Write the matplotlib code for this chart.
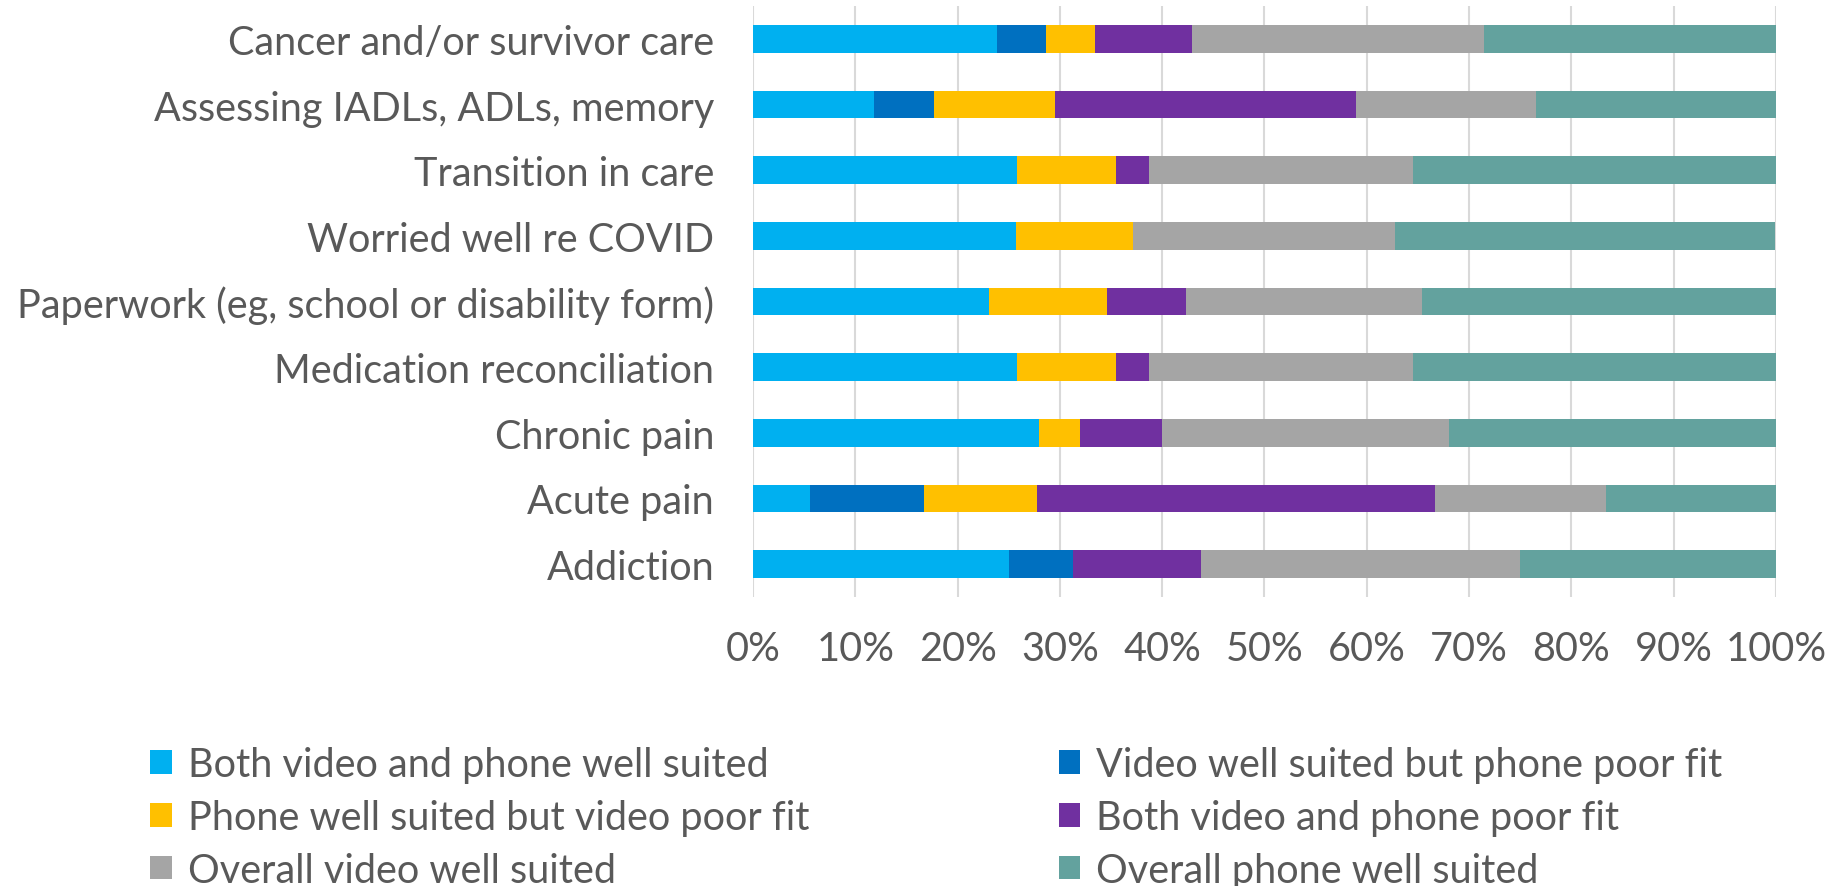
import numpy as np
import matplotlib
matplotlib.use("Agg")
import matplotlib.pyplot as plt

plt.rcParams["font.family"] = ["Lato", "DejaVu Sans"]

# categories, top to bottom as in the chart
categories = ["Cancer and/or survivor care", "Assessing IADLs, ADLs, memory",
              "Transition in care", "Worried well re COVID",
              "Paperwork (eg, school or disability form)", "Medication reconciliation",
              "Chronic pain", "Acute pain", "Addiction"]

# percent of responses per category
both_well = [23.8, 11.8, 25.8, 25.7, 23.1, 25.8, 28.0, 5.6, 25.0]
video_only = [4.8, 5.9, 0.0, 0.0, 0.0, 0.0, 0.0, 11.1, 6.25]
phone_only = [4.8, 11.8, 9.7, 11.4, 11.5, 9.7, 4.0, 11.1, 0.0]
both_poor = [9.5, 29.4, 3.2, 0.0, 7.7, 3.2, 8.0, 38.9, 12.5]
overall_video = [28.6, 17.6, 25.8, 25.7, 23.1, 25.8, 28.0, 16.7, 31.25]
overall_phone = [28.6, 23.5, 35.5, 37.1, 34.6, 35.5, 32.0, 16.7, 25.0]

series_names = ["Both video and phone well suited", "Video well suited but phone poor fit",
                "Phone well suited but video poor fit", "Both video and phone poor fit",
                "Overall video well suited", "Overall phone well suited"]
colors = ["#00B0F0", "#0070C0", "#FFC000", "#7030A0", "#A5A5A5", "#63A29E"]

txt = "#595959"
fs = 28.5

fig = plt.figure(figsize=(18.39, 8.87), dpi=100)
ax = fig.add_axes([0.4095, 0.326, 0.5562, 0.666])

series = [both_well, video_only, phone_only, both_poor, overall_video, overall_phone]
y = np.arange(len(categories))
left = np.zeros(len(categories))
bars = []
for vals, name, c in zip(series, series_names, colors):
    v = np.array(vals, dtype=float)
    b = ax.barh(y, v, left=left, height=0.42, color=c, label=name, zorder=3)
    bars.append(b)
    left += v

ax.set_xlim(0, 100)
ax.set_ylim(len(categories) - 0.5, -0.5)
ax.set_xticks(np.arange(0, 101, 10))
ax.set_xticklabels([f"{t}%" for t in range(0, 101, 10)])
ax.set_yticks(y)
ax.set_yticklabels(categories)
ax.tick_params(axis="both", length=0, labelsize=fs, labelcolor=txt)
ax.tick_params(axis="y", pad=28)
ax.tick_params(axis="x", pad=24)
ax.grid(axis="x", color="#D9D9D9", linewidth=1.5, zorder=0)
for s in ax.spines.values():
    s.set_visible(False)

order = [0, 2, 4, 1, 3, 5]
fig.legend([bars[i] for i in order], [series_names[i] for i in order],
           loc="upper left", bbox_to_anchor=(0.0816, 0.158), ncol=2,
           frameon=False, fontsize=fs, labelcolor=txt,
           handlelength=0.55, handleheight=0.55, handletextpad=0.4,
           columnspacing=6.3, labelspacing=0.40, borderaxespad=0, borderpad=0)

fig.savefig("out.png", dpi=100)
